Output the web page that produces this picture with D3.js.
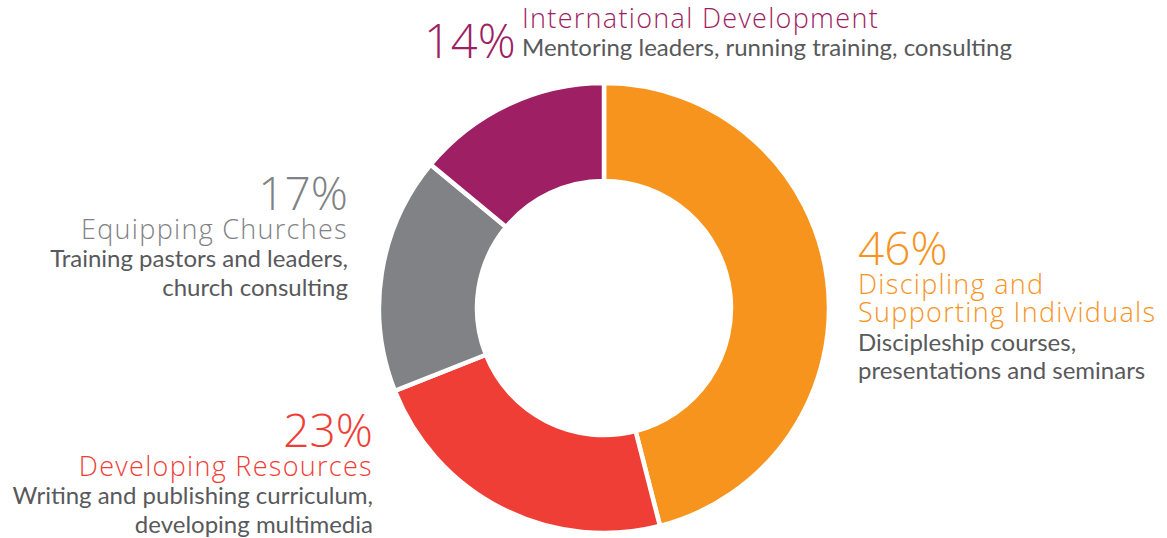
<!DOCTYPE html>
<html>
<head>
<meta charset="utf-8">
<script src="https://cdn.jsdelivr.net/npm/d3@7"></script>
<style>
  body { margin: 0; background: #fff; }
  svg { display: block; }
  .pct { font-family: "Open Sans", sans-serif; font-weight: 300; }
  .head { font-family: "Open Sans", sans-serif; font-weight: 300; letter-spacing: 1.3px; }
  .desc { font-family: Lato, "Open Sans", sans-serif; fill: #58595b; }
</style>
</head>
<body>
<svg id="chart" width="1167" height="538"></svg>
<script>
// slices in drawing order, clockwise from 12 o'clock
var categories = ['Discipling and Supporting Individuals', 'Developing Resources', 'Equipping Churches', 'International Development'];
var values = [46, 23, 17, 14];
var colors = ['#f7941e', '#ef3e36', '#808285', '#9e1f63'];
var headings = [
    ['Discipling and', 'Supporting Individuals'],
    ['Developing Resources'],
    ['Equipping Churches'],
    ['International Development']
];
var descriptions = [
    ['Discipleship courses,', 'presentations and seminars'],
    ['Writing and publishing curriculum,', 'developing multimedia'],
    ['Training pastors and leaders,', 'church consulting'],
    ['Mentoring leaders, running training, consulting']
];

var svg = d3.select('#chart');
var cx = 604, cy = 308;
var outerR = 225, innerR = 127;

var pie = d3.pie().sort(null).value(function(d) { return d; });
var arc = d3.arc().innerRadius(innerR).outerRadius(outerR);

var slices = pie(values);

svg.append('g')
    .attr('transform', 'translate(' + cx + ',' + cy + ')')
    .selectAll('path')
    .data(slices)
    .enter().append('path')
    .attr('d', arc)
    .style('fill', function(d, i) { return colors[i]; })
    .style('stroke', '#fff')
    .style('stroke-width', 4.5)
    .style('stroke-linejoin', 'miter');

var pctSize = 46, headSize = 27, descSize = 24;
var lineGap = 28.5;

// label blocks: anchor, x, baseline of the percent
var blocks = [
    {anchor: 'start', x: 858, y: 265},
    {anchor: 'end', x: 373, y: 447},
    {anchor: 'end', x: 348, y: 210}
];

blocks.forEach(function(b, i) {
    var g = svg.append('g');
    g.append('text').attr('class', 'pct')
        .attr('x', b.x).attr('y', b.y)
        .attr('text-anchor', b.anchor)
        .style('font-size', pctSize + 'px')
        .style('fill', colors[i])
        .text(values[i] + '%');
    var y = b.y;
    headings[i].forEach(function(t) {
        y += lineGap;
        g.append('text').attr('class', 'head')
            .attr('x', b.x).attr('y', y)
            .attr('text-anchor', b.anchor)
            .style('font-size', headSize + 'px')
            .style('fill', colors[i])
            .text(t);
    });
    descriptions[i].forEach(function(t) {
        y += lineGap;
        g.append('text').attr('class', 'desc')
            .attr('x', b.x).attr('y', y)
            .attr('text-anchor', b.anchor)
            .style('font-size', descSize + 'px')
            .text(t);
    });
});

// the top label sits beside its percent
var topG = svg.append('g');
topG.append('text').attr('class', 'pct')
    .attr('x', 424).attr('y', 58)
    .style('font-size', (pctSize + 1) + 'px')
    .style('fill', colors[3])
    .text(values[3] + '%');
topG.append('text').attr('class', 'head')
    .attr('x', 522).attr('y', 28)
    .style('font-size', headSize + 'px')
    .style('fill', colors[3])
    .text(headings[3][0]);
topG.append('text').attr('class', 'desc')
    .attr('x', 522).attr('y', 56)
    .style('font-size', descSize + 'px')
    .text(descriptions[3][0]);
</script>
</body>
</html>
